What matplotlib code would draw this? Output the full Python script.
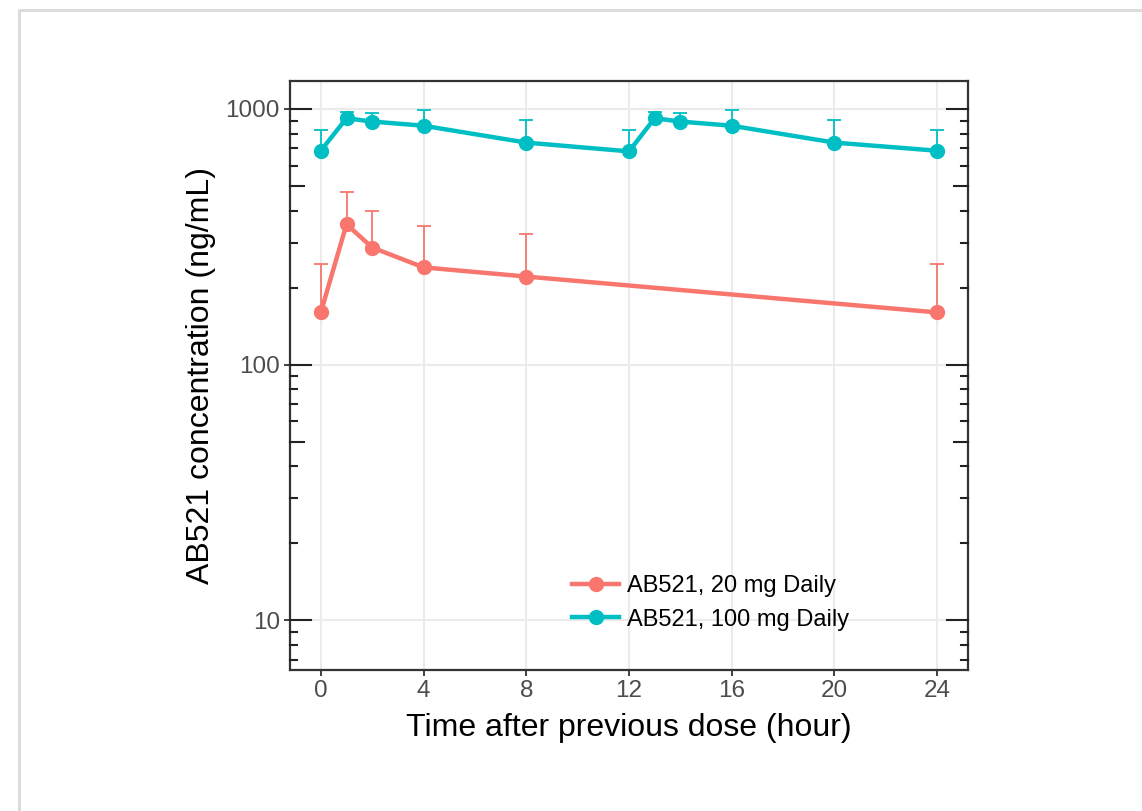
import numpy as np
import matplotlib
matplotlib.use("Agg")
import matplotlib.pyplot as plt
from matplotlib.lines import Line2D
from matplotlib.transforms import blended_transform_factory

plt.rcParams['font.family'] = ['Liberation Sans', 'DejaVu Sans']

# 20 mg daily
time_20 = [0, 1, 2, 4, 8, 24]
mean_20 = [160, 354, 287, 240, 221, 160]
upper_20 = [247, 474, 397, 347, 324, 247]

# 100 mg daily
time_100 = [0, 1, 2, 4, 8, 12, 13, 14, 16, 20, 24]
mean_100 = [686, 919, 892, 859, 738, 682, 919, 892, 859, 738, 686]
upper_100 = [826, 976, 961, 988, 904, 826, 976, 961, 988, 904, 826]

labels = ["AB521, 20 mg Daily", "AB521, 100 mg Daily"]
colors = ["#F8766D", "#00BFC4"]
x_ticks = [0, 4, 8, 12, 16, 20, 24]
y_ticks = [10, 100, 1000]

W, H = 1142, 811
fig = plt.figure(figsize=(W / 100, H / 100), dpi=100)
ax = fig.add_axes([290 / W, 1 - 670 / H, (968 - 290) / W, (670 - 81) / H])

# outer light frame of the original screenshot
fig.add_artist(Line2D([19 / W, 19 / W, 1.0], [0.0, 1 - 10 / H, 1 - 10 / H],
                      transform=fig.transFigure, color="#dcdcdc", lw=2.2))

series = [(time_20, mean_20, upper_20), (time_100, mean_100, upper_100)]
for (t, m, up), lab, col in zip(series, labels, colors):
    t = np.array(t); m = np.array(m); up = np.array(up)
    ax.errorbar(t, m, yerr=[np.zeros_like(m), up - m], fmt="none",
                ecolor=col, elinewidth=1.3, capsize=4.8, capthick=1.3, zorder=3)
    ax.plot(t, m, color=col, lw=3.2, marker="o", markersize=10,
            label=lab, zorder=4)

ax.set_yscale("log")
ax.set_xlim(-1.2, 25.2)
ax.set_ylim(6.4, 1285)
ax.set_xticks(x_ticks)
ax.set_xticklabels([str(v) for v in x_ticks])
ax.set_yticks(y_ticks)
ax.set_yticklabels([str(v) for v in y_ticks])
ax.yaxis.set_minor_locator(matplotlib.ticker.NullLocator())

ax.grid(True, which="major", color="#EBEBEB", lw=1.5, zorder=0)
ax.set_axisbelow(True)
for s in ax.spines.values():
    s.set_color("#333333")
    s.set_linewidth(1.6)

ax.tick_params(axis="both", which="major", direction="out", length=4.3,
               width=1.3, color="#333333", labelcolor="#4D4D4D",
               labelsize=17.5, pad=3)

# log ticks inside the panel, left and right
ax_px = 968 - 290
tr = blended_transform_factory(ax.transAxes, ax.transData)
for dec in [1, 10, 100, 1000]:
    for k in range(1, 10):
        v = dec * k
        if v < 6.4 or v > 1285:
            continue
        ln = 21 if k == 1 else (14 if k == 5 else 7)
        f = ln / ax_px
        for x0, x1 in [(0, f), (1 - f, 1)]:
            ax.add_line(Line2D([x0, x1], [v, v], transform=tr,
                               color="#222222", lw=1.5, clip_on=False,
                               zorder=5))

ax.set_xlabel("Time after previous dose (hour)", fontsize=23, labelpad=8)
ax.set_ylabel("AB521 concentration (ng/mL)", fontsize=23, labelpad=7)

ax.legend(loc="center left", bbox_to_anchor=((572 - 290) / ax_px, 67 / 589),
          frameon=False, fontsize=17, handlelength=2.0, handletextpad=0.35,
          labelspacing=0.48, borderpad=0, borderaxespad=0)

fig.savefig("out.png", dpi=100)
